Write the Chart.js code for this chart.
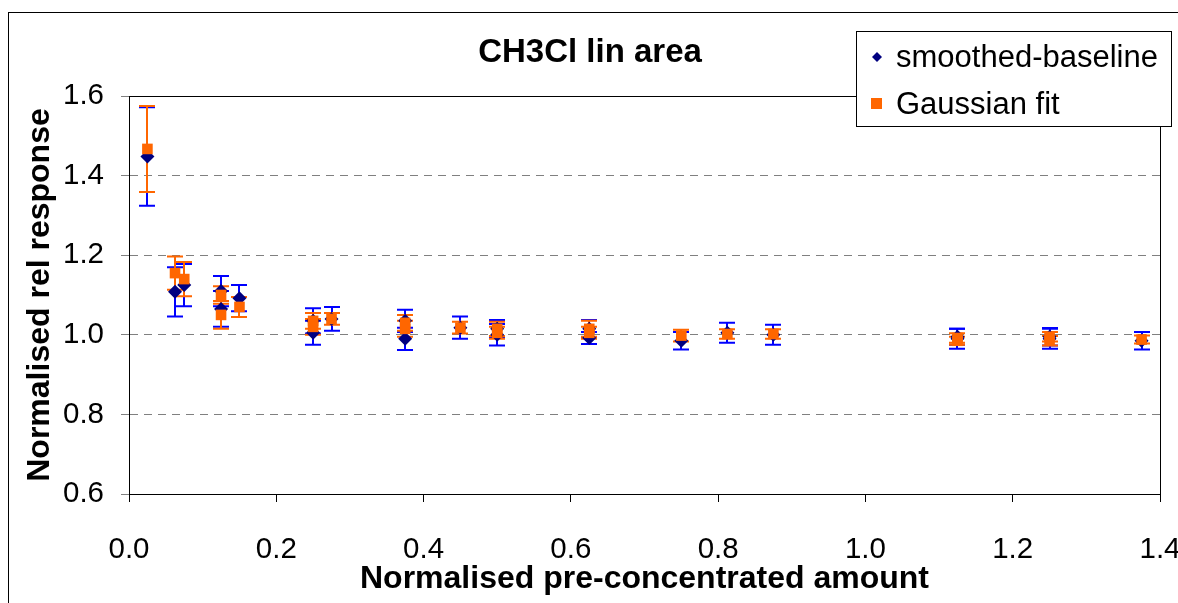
<!DOCTYPE html>
<html>
<head>
<meta charset="utf-8">
<script src="https://cdn.jsdelivr.net/npm/chart.js@4"></script>
<style>
  html, body { margin: 0; padding: 0; background: #fff; }
</style>
</head>
<body>
<canvas id="myChart" width="1178" height="603"></canvas>
<script>
// smoothed-baseline: x, value, error
var smoothX   = [0.025, 0.0625, 0.075, 0.125, 0.125, 0.15, 0.25, 0.25, 0.275, 0.375, 0.375, 0.45, 0.5, 0.5, 0.625, 0.625, 0.75, 0.8125, 0.875, 1.125, 1.125, 1.25, 1.25, 1.375];
var smoothY   = [1.448, 1.108, 1.125, 1.110, 1.065, 1.092, 1.005, 1.035, 1.040, 0.990, 1.035, 1.018, 1.000, 1.015, 0.992, 1.015, 0.985, 1.005, 1.000, 0.990, 0.995, 0.990, 0.995, 0.985];
var smoothErr = [0.124, 0.062, 0.053, 0.038, 0.045, 0.033, 0.030, 0.032, 0.030, 0.028, 0.028, 0.028, 0.027, 0.022, 0.015, 0.022, 0.022, 0.025, 0.025, 0.025, 0.020, 0.025, 0.022, 0.022];

// Gaussian fit: x, value, error
var gaussX    = [0.025, 0.0625, 0.075, 0.125, 0.125, 0.15, 0.25, 0.25, 0.275, 0.375, 0.375, 0.45, 0.5, 0.5, 0.625, 0.625, 0.75, 0.8125, 0.875, 1.125, 1.125, 1.25, 1.25, 1.375];
var gaussY    = [1.467, 1.155, 1.140, 1.100, 1.050, 1.070, 1.035, 1.020, 1.040, 1.030, 1.015, 1.018, 1.015, 1.005, 1.015, 1.005, 0.998, 1.002, 1.002, 0.992, 0.985, 0.995, 0.985, 0.988];
var gaussErr  = [0.108, 0.042, 0.043, 0.022, 0.035, 0.025, 0.020, 0.020, 0.015, 0.020, 0.020, 0.015, 0.018, 0.015, 0.020, 0.015, 0.015, 0.012, 0.012, 0.012, 0.010, 0.012, 0.012, 0.010];

var xTicks = [0.0, 0.2, 0.4, 0.6, 0.8, 1.0, 1.2, 1.4];
var yTicks = [0.6, 0.8, 1.0, 1.2, 1.4, 1.6];

var seriesNames = ['smoothed-baseline', 'Gaussian fit'];

function points(xs, ys) {
    return xs.map(function(x, i) { return { x: x, y: ys[i] }; });
}

// vertical error bars with caps, drawn under the markers
var errorBars = {
    id: 'errorBars',
    beforeDatasetsDraw: function(chart) {
        var ctx = chart.ctx, xs = chart.scales.x, ys = chart.scales.y;
        chart.data.datasets.forEach(function(ds) {
            ctx.save();
            ctx.strokeStyle = ds.errColor;
            ctx.lineWidth = 2;
            ds.data.forEach(function(p, i) {
                var px = Math.round(xs.getPixelForValue(p.x));
                var top = ys.getPixelForValue(p.y + ds.errors[i]);
                var bot = ys.getPixelForValue(p.y - ds.errors[i]);
                ctx.beginPath();
                ctx.moveTo(px, top); ctx.lineTo(px, bot);
                ctx.moveTo(px - 8, top); ctx.lineTo(px + 8, top);
                ctx.moveTo(px - 8, bot); ctx.lineTo(px + 8, bot);
                ctx.stroke();
            });
            ctx.restore();
        });
    }
};

// outer frame, plot frame and the legend box
var frame = {
    id: 'frame',
    afterDraw: function(chart) {
        var ctx = chart.ctx, a = chart.chartArea;
        ctx.save();
        ctx.strokeStyle = '#000';
        ctx.lineWidth = 1;
        ctx.strokeRect(8.5, 12.5, 1180, 600);
        ctx.strokeRect(Math.round(a.left) + 0.5, Math.round(a.top) + 0.5,
                       Math.round(a.right - a.left), Math.round(a.bottom - a.top));

        // legend
        ctx.fillStyle = '#fff';
        ctx.fillRect(856, 31, 315, 95);
        ctx.strokeRect(856.5, 31.5, 315, 95);
        ctx.font = '31px "Liberation Sans", Arial, sans-serif';
        ctx.textBaseline = 'middle';
        ctx.textAlign = 'left';

        ctx.fillStyle = '#000080';
        ctx.beginPath();
        ctx.moveTo(877, 52); ctx.lineTo(882, 57); ctx.lineTo(877, 62); ctx.lineTo(872, 57);
        ctx.closePath();
        ctx.fill();
        ctx.fillStyle = '#000';
        ctx.fillText(seriesNames[0], 896, 58);

        ctx.fillStyle = '#FF6600';
        ctx.fillRect(871, 98, 11, 11);
        ctx.fillStyle = '#000';
        ctx.fillText(seriesNames[1], 896, 105);
        ctx.restore();
    }
};

document.addEventListener('DOMContentLoaded', function() {
    var ctx = document.getElementById('myChart').getContext('2d');
    var font = '"Liberation Sans", Arial, sans-serif';

    new Chart(ctx, {
        type: 'scatter',
        data: {
            datasets: [{
                label: seriesNames[0],
                data: points(smoothX, smoothY),
                errors: smoothErr,
                errColor: '#0000FF',
                order: 2,
                pointStyle: 'rectRot',
                pointRadius: 7,
                pointBackgroundColor: '#000080',
                pointBorderColor: '#000080',
                pointBorderWidth: 0
            }, {
                label: seriesNames[1],
                data: points(gaussX, gaussY),
                errors: gaussErr,
                errColor: '#FF6600',
                order: 1,
                pointStyle: 'rect',
                pointRadius: 7.5,
                pointBackgroundColor: '#FF6600',
                pointBorderColor: '#FF6600',
                pointBorderWidth: 0
            }]
        },
        options: {
            responsive: false,
            animation: false,
            layout: { padding: { left: 20, right: 18, top: 0, bottom: 0 } },
            plugins: {
                legend: { display: false },
                tooltip: { enabled: false },
                title: {
                    display: true,
                    text: 'CH3Cl lin area',
                    color: '#000',
                    font: { family: font, size: 33, weight: 'bold' },
                    padding: { top: 33, bottom: 23.4 }
                }
            },
            scales: {
                x: {
                    type: 'linear',
                    min: 0, max: 1.4,
                    afterBuildTicks: function(axis) {
                        axis.ticks = xTicks.map(function(v) { return { value: v }; });
                    },
                    afterFit: function(axis) {
                        axis.height = 109;
                        axis.paddingLeft = 0;
                        axis.paddingRight = 0;
                    },
                    ticks: {
                        color: '#000',
                        font: { family: font, size: 29.5 },
                        padding: 30,
                        maxRotation: 0,
                        callback: function(v) { return v.toFixed(1); }
                    },
                    grid: { drawOnChartArea: false, tickLength: 8, tickColor: '#000' },
                    border: { color: '#000' },
                    title: {
                        display: true,
                        text: 'Normalised pre-concentrated amount',
                        color: '#000',
                        font: { family: font, size: 32, weight: 'bold' },
                        padding: { top: 4, bottom: 5 }
                    }
                },
                y: {
                    type: 'linear',
                    min: 0.6, max: 1.6,
                    afterBuildTicks: function(axis) {
                        axis.ticks = yTicks.map(function(v) { return { value: v }; });
                    },
                    afterFit: function(axis) {
                        axis.width = 109;
                        axis.paddingTop = 0;
                        axis.paddingBottom = 0;
                    },
                    ticks: {
                        color: '#000',
                        font: { family: font, size: 29.5 },
                        padding: 17,
                        callback: function(v) { return v.toFixed(1); }
                    },
                    grid: {
                        color: function(c) {
                            var v = c.tick ? c.tick.value : 0;
                            return (Math.abs(v - 0.6) < 1e-6 || Math.abs(v - 1.6) < 1e-6) ? 'rgba(0,0,0,0)' : '#808080';
                        },
                        tickLength: 8,
                        tickColor: '#808080'
                    },
                    border: { color: '#000', dash: [8, 6] },
                    title: {
                        display: true,
                        text: 'Normalised rel response',
                        color: '#000',
                        font: { family: font, size: 32, weight: 'bold' },
                        padding: { top: 1, bottom: 0 }
                    }
                }
            }
        },
        plugins: [errorBars, frame]
    });
});
</script>
</body>
</html>
